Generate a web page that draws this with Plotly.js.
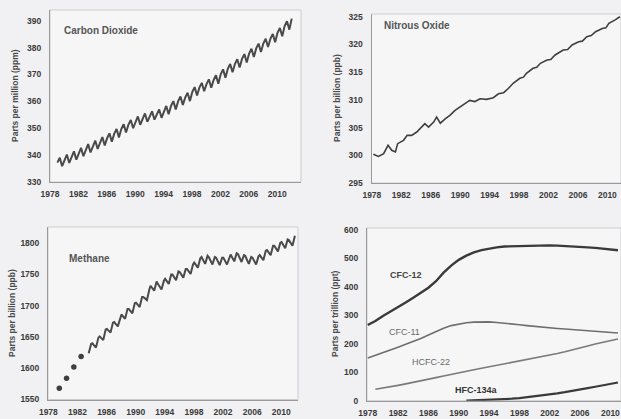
<!DOCTYPE html>
<html>
<head>
<meta charset="utf-8">
<script src="https://cdn.plot.ly/plotly-3.0.1.min.js"></script>
<style>
  html, body { margin: 0; padding: 0; background: #f1f1f3; }
  #chart { width: 621px; height: 419px; }
</style>
</head>
<body>
<div id="chart"></div>
<script>
// ---- Carbon dioxide (ppm): per year, values for Jan, May, Sep ----
const co2Years = [1979,1980,1981,1982,1983,1984,1985,1986,1987,1988,1989,1990,1991,1992,1993,1994,1995,1996,1997,1998,1999,2000,2001,2002,2003,2004,2005,2006,2007,2008,2009,2010,2011,2012];
const co2Months = [1, 5, 9];
const co2Values = [
  337.2,339.0,335.9, 338.4,340.2,337.1, 339.6,341.4,338.3, 340.9,342.7,339.6,
  342.3,344.1,341.0, 343.6,345.4,342.3, 344.9,346.7,343.6, 346.3,348.1,345.0,
  347.9,349.7,346.6, 349.7,351.5,348.4, 351.3,353.1,350.0, 352.6,354.4,351.3,
  353.7,355.5,352.4, 354.5,356.3,353.2, 355.2,357.0,353.9, 356.5,358.3,355.2,
  358.3,360.1,357.0, 360.0,361.8,358.7, 361.4,363.2,360.1, 363.5,365.3,362.2,
  365.1,366.9,363.8, 366.4,368.2,365.1, 367.9,369.7,366.6, 370.1,371.9,368.8,
  372.1,373.9,370.8, 373.9,375.7,372.6, 375.8,377.6,374.5, 377.8,379.6,376.5,
  379.7,381.5,378.4, 381.5,383.3,380.2, 383.3,385.1,382.0, 385.5,387.3,384.2,
  388.0,389.8,386.7, 390.8,null,null
];

// ---- Nitrous oxide (ppb) ----
const n2oTimes = [1978.2,1978.9,1979.6,1980.2,1980.7,1981.2,1981.5,1982.3,1982.8,1983.4,1984.1,1984.8,1985.2,1985.7,1986.4,1986.8,1987.3,1988.0,1988.6,1989.3,1990.0,1990.7,1991.3,1992.0,1992.7,1993.6,1994.5,1995.2,1995.9,1996.5,1997.2,1998.1,1998.6,1999.0,1999.9,2000.4,2000.9,2001.8,2002.3,2002.9,2004.0,2004.6,2005.2,2006.1,2006.6,2007.2,2007.8,2008.4,2009.3,2009.8,2010.2,2011.0,2011.7];
const n2oValues = [300.2,299.8,300.3,301.8,300.9,300.6,302.1,302.7,303.6,303.6,304.2,305.1,305.7,305.1,306.0,306.9,305.8,306.6,307.2,308.1,308.7,309.3,309.9,309.7,310.2,310.1,310.4,311.1,311.3,312.0,313.0,313.9,314.1,314.8,315.7,315.9,316.6,317.2,317.3,318.1,319.0,319.1,319.9,320.5,320.6,321.4,321.6,322.3,322.9,323.0,323.8,324.4,325.0];

// ---- Methane (ppb): early annual means, then per year Jan, Jul, Nov ----
const ch4DotYears = [1979,1980,1981,1982];
const ch4DotValues = [1568,1584,1602,1619];
const ch4Years = [1983,1984,1985,1986,1987,1988,1989,1990,1991,1992,1993,1994,1995,1996,1997,1998,1999,2000,2001,2002,2003,2004,2005,2006,2007,2008,2009,2010,2011];
const ch4Months = [1, 7, 11];
const ch4Values = [
  null,1624,1639, 1640,1633,1649, 1651,1645,1662, 1663,1657,1673, 1674,1667,1683,
  1686,1679,1695, 1695,1688,1704, 1705,1698,1714, 1714,1709,1726, 1732,1724,1739,
  1735,1726,1740, 1743,1735,1750, 1750,1741,1755, 1754,1745,1759, 1759,1751,1766,
  1769,1761,1776, 1778,1767,1780, 1778,1766,1778, 1777,1765,1777, 1777,1766,1779,
  1782,1771,1784, 1783,1770,1781, 1780,1767,1778, 1777,1766,1779, 1781,1773,1788,
  1789,1781,1796, 1796,1787,1801, 1802,1792,1806, 1805,1796,1812
];

// ---- Halocarbons (ppt), annual ----
const haloYears = [1978,1979,1980,1981,1982,1983,1984,1985,1986,1987,1988,1989,1990,1991,1992,1993,1994,1995,1996,1997,1998,1999,2000,2001,2002,2003,2004,2005,2006,2007,2008,2009,2010,2011];
const cfc12 = [266,280,298,313,328,345,362,378,397,420,450,475,495,510,521,529,535,539,542,543,544,545,546,546,546,545,544,543,541,539,537,535,532,529];
const cfc11 = [150,159,168,178,188,198,208,219,231,243,255,264,270,274,276,277,277,275,273,270,267,264,261,259,256,254,252,250,248,246,244,242,240,238];
const hcfc22 = [null,40,44,49,54,59,64,69,75,81,87,93,99,104,109,114,119,124,130,136,141,146,151,156,161,166,172,178,185,192,199,205,211,217];
const hfc134a = [null,null,null,null,null,null,null,null,null,null,null,null,null,0,1,1.5,2,3,5,7,9,12,15,18,22,26,30,34,39,44,49,54,59,64];

const haloLabels = ['CFC-12','CFC-11','HCFC-22','HFC-134a'];
const tickYears = [1978,1982,1986,1990,1994,1998,2002,2006,2010];

// expand per-year month samples into decimal-year time series
function seasonal(years, months, values) {
  const t = [], v = [];
  years.forEach((y, i) => {
    months.forEach((m, j) => {
      t.push(y + (m - 0.5) / 12);
      v.push(values[i * months.length + j]);
    });
  });
  return {t, v};
}
const co2 = seasonal(co2Years, co2Months, co2Values);
const ch4 = seasonal(ch4Years, ch4Months, ch4Values);

const FONT = 'Liberation Sans, Arial, sans-serif';
const W = 621, H = 419;
const px = x => x / W;
const py = y => 1 - y / H;

const traces = [
  {x: co2.t, y: co2.v, xaxis: 'x', yaxis: 'y', mode: 'lines',
   line: {color: '#4a4a4a', width: 2}},
  {x: n2oTimes, y: n2oValues, xaxis: 'x2', yaxis: 'y2', mode: 'lines',
   line: {color: '#3f3f3f', width: 1.6}},
  {x: ch4DotYears.map(y => y + 0.5), y: ch4DotValues, xaxis: 'x3', yaxis: 'y3', mode: 'markers',
   marker: {color: '#3f3f3f', size: 5.5}},
  {x: ch4.t, y: ch4.v, xaxis: 'x3', yaxis: 'y3', mode: 'lines',
   line: {color: '#4a4a4a', width: 2}},
  {x: haloYears, y: cfc12, xaxis: 'x4', yaxis: 'y4', mode: 'lines',
   line: {color: '#3a3a3a', width: 2.4}},
  {x: haloYears, y: cfc11, xaxis: 'x4', yaxis: 'y4', mode: 'lines',
   line: {color: '#6e6e6e', width: 1.6}},
  {x: haloYears, y: hcfc22, xaxis: 'x4', yaxis: 'y4', mode: 'lines',
   line: {color: '#7a7a7a', width: 1.6}},
  {x: haloYears, y: hfc134a, xaxis: 'x4', yaxis: 'y4', mode: 'lines',
   line: {color: '#3a3a3a', width: 2.2}}
];
traces.forEach(t => { t.showlegend = false; t.hoverinfo = 'skip'; });

function xAxis(domain, range, anchor) {
  return {domain, range, anchor, tickvals: tickYears, ticks: '', showgrid: false, zeroline: false,
    showline: true, linecolor: '#9a9a9a', linewidth: 1,
    tickfont: {family: FONT, size: 8.5, color: '#3a3a3a', weight: 'bold'}, ticklabelstandoff: 4};
}
function yAxis(domain, range, dtick, anchor) {
  return {domain, range, anchor, dtick, tick0: 0, ticks: '', showgrid: false, zeroline: false,
    showline: true, linecolor: '#9a9a9a', linewidth: 1,
    tickfont: {family: FONT, size: 8.5, color: '#3a3a3a', weight: 'bold'}, ticklabelstandoff: 6};
}

// plot frames (light border around each plot area)
const frames = ['', '2', '3', '4'].map(s => ({
  type: 'rect', xref: 'x' + s + ' domain', yref: 'y' + s + ' domain',
  x0: 0, x1: 1, y0: 0, y1: 1, line: {color: '#cdcdcf', width: 1}, layer: 'below'
}));

function note(text, x, y, opts) {
  return Object.assign({text, xref: 'paper', yref: 'paper', x: px(x), y: py(y),
    showarrow: false, xanchor: 'left', yanchor: 'middle',
    font: {family: FONT, size: 10, color: '#555', weight: 'bold'}}, opts || {});
}
function ytitle(text, x, y) {
  return note(text, x, y, {textangle: -90, xanchor: 'center',
    font: {family: FONT, size: 8.5, color: '#4a4a4a', weight: 'bold'}});
}

const annotations = [
  note('Carbon Dioxide', 62, 30),
  note('Nitrous Oxide', 382, 25),
  note('Methane', 67, 258),
  ytitle('Parts per million (ppm)', 15, 96),
  ytitle('Parts per billion (ppb)', 337, 98),
  ytitle('Parts per billion (ppb)', 12, 313),
  ytitle('Parts per trillion (ppt)', 335, 313),
  note(haloLabels[0], 388, 275, {font: {family: FONT, size: 9, color: '#444', weight: 'bold'}}),
  note(haloLabels[1], 387, 332, {font: {family: FONT, size: 9, color: '#6a6a6a'}}),
  note(haloLabels[2], 410, 362, {font: {family: FONT, size: 9, color: '#6a6a6a'}}),
  note(haloLabels[3], 453, 390, {font: {family: FONT, size: 9, color: '#333', weight: 'bold'}})
];

const layout = {
  width: W, height: H,
  margin: {l: 0, r: 0, t: 0, b: 0},
  paper_bgcolor: '#f1f1f3',
  plot_bgcolor: '#f6f6f7',
  showlegend: false,
  xaxis:  xAxis([px(50), px(301)], [1978, 2013.35], 'y'),
  yaxis:  yAxis([py(182), py(10)], [330, 394], 10, 'x'),
  xaxis2: xAxis([px(371.5), 1], [1977.95, 2011.85], 'y2'),
  yaxis2: yAxis([py(183), py(14)], [295, 325.5], 5, 'x2'),
  xaxis3: xAxis([px(48), px(298)], [1977.95, 2012.3], 'y3'),
  yaxis3: yAxis([py(399.5), py(227)], [1550, 1826], 50, 'x3'),
  xaxis4: xAxis([px(367), 1], [1977.9, 2011.4], 'y4'),
  yaxis4: yAxis([py(400.7), py(228)], [0, 607], 100, 'x4'),
  shapes: frames,
  annotations
};

Plotly.newPlot('chart', traces, layout, {staticPlot: true, displayModeBar: false});
</script>
</body>
</html>
